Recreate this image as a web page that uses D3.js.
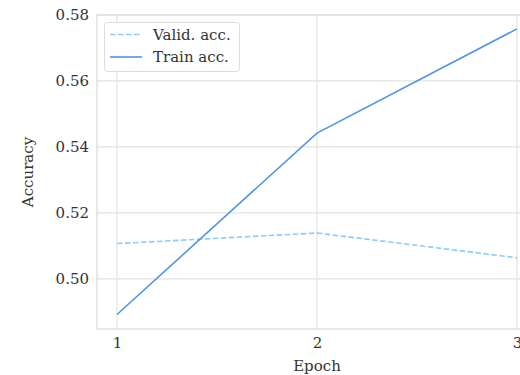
<!DOCTYPE html>
<html><head><meta charset="utf-8">
<script src="https://cdn.jsdelivr.net/npm/d3@7"></script>
<style>body{margin:0;background:#fff}svg{display:block}text{font-family:"DejaVu Serif",serif;fill:#333}</style>
</head><body><svg id="c" width="520" height="375"></svg>
<script>
const epochs = [1, 2, 3];
const trainAcc = [0.4892, 0.5442, 0.5758];
const validAcc = [0.5107, 0.5139, 0.5064];
const yTicks = [0.50, 0.52, 0.54, 0.56, 0.58];
const xTicks = [1, 2, 3];

const svg = d3.select("#c");
const L = 97, R = 537, T = 15, B = 329;
const x = d3.scaleLinear().domain([0.9, 3.1]).range([L, R]);
const y = d3.scaleLinear().domain([0.4848, 0.58]).range([B, T]);

const g = svg.append("g");
// grid
g.selectAll(".gx").data(xTicks).join("line").attr("x1", d => x(d)).attr("x2", d => x(d))
  .attr("y1", T).attr("y2", B).attr("stroke", "#e3e3e3").attr("stroke-width", 1.2);
g.selectAll(".gy").data(yTicks).join("line").attr("y1", d => y(d)).attr("y2", d => y(d))
  .attr("x1", L).attr("x2", R).attr("stroke", "#e3e3e3").attr("stroke-width", 1.2);
// frame
g.append("rect").attr("x", L).attr("y", T).attr("width", R - L).attr("height", B - T)
  .attr("fill", "none").attr("stroke", "#dcdcdc").attr("stroke-width", 1.3);

// axes labels via d3 axes
const yAxis = svg.append("g").attr("transform", `translate(${L},0)`)
  .call(d3.axisLeft(y).tickValues(yTicks).tickFormat(d3.format(".2f")).tickSize(0).tickPadding(8));
const xAxis = svg.append("g").attr("transform", `translate(0,${B})`)
  .call(d3.axisBottom(x).tickValues(xTicks).tickFormat(d3.format("d")).tickSize(0).tickPadding(8));
[yAxis, xAxis].forEach(a => { a.select(".domain").remove(); a.selectAll("text").style("font-size", "15px").style("font-family", "DejaVu Serif").attr("fill", "#333"); });

svg.append("text").attr("x", (L + R) / 2).attr("y", 371).attr("text-anchor", "middle")
  .style("font-size", "15px").text("Epoch");
svg.append("text").attr("transform", `translate(33,${(T + B) / 2}) rotate(-90)`).attr("text-anchor", "middle")
  .style("font-size", "15px").text("Accuracy");

const line = d3.line().x((d, i) => x(epochs[i])).y(d => y(d));
svg.append("path").datum(validAcc).attr("d", line).attr("fill", "none")
  .attr("stroke", "#8ccbfa").attr("stroke-width", 1.6).attr("stroke-dasharray", "5.5,2.5");
svg.append("path").datum(trainAcc).attr("d", line).attr("fill", "none")
  .attr("stroke", "#4f96e6").attr("stroke-width", 1.6);

// legend
const lg = svg.append("g");
lg.append("rect").attr("x", 104.5).attr("y", 22.5).attr("width", 135).attr("height", 49).attr("rx", 3)
  .attr("fill", "#fff").attr("fill-opacity", 0.85).attr("stroke", "#dcdcdc");
const items = [{name: "Valid. acc.", color: "#8ccbfa", dash: "5.5,2.5"}, {name: "Train acc.", color: "#4f96e6", dash: null}];
items.forEach((it, i) => {
  const yy = 34.5 + i * 22.5;
  lg.append("line").attr("x1", 110).attr("x2", 142).attr("y1", yy).attr("y2", yy)
    .attr("stroke", it.color).attr("stroke-width", 1.6).attr("stroke-dasharray", it.dash);
  lg.append("text").attr("x", 153).attr("y", yy + 5).style("font-size", "15px").text(it.name);
});
</script></body></html>
